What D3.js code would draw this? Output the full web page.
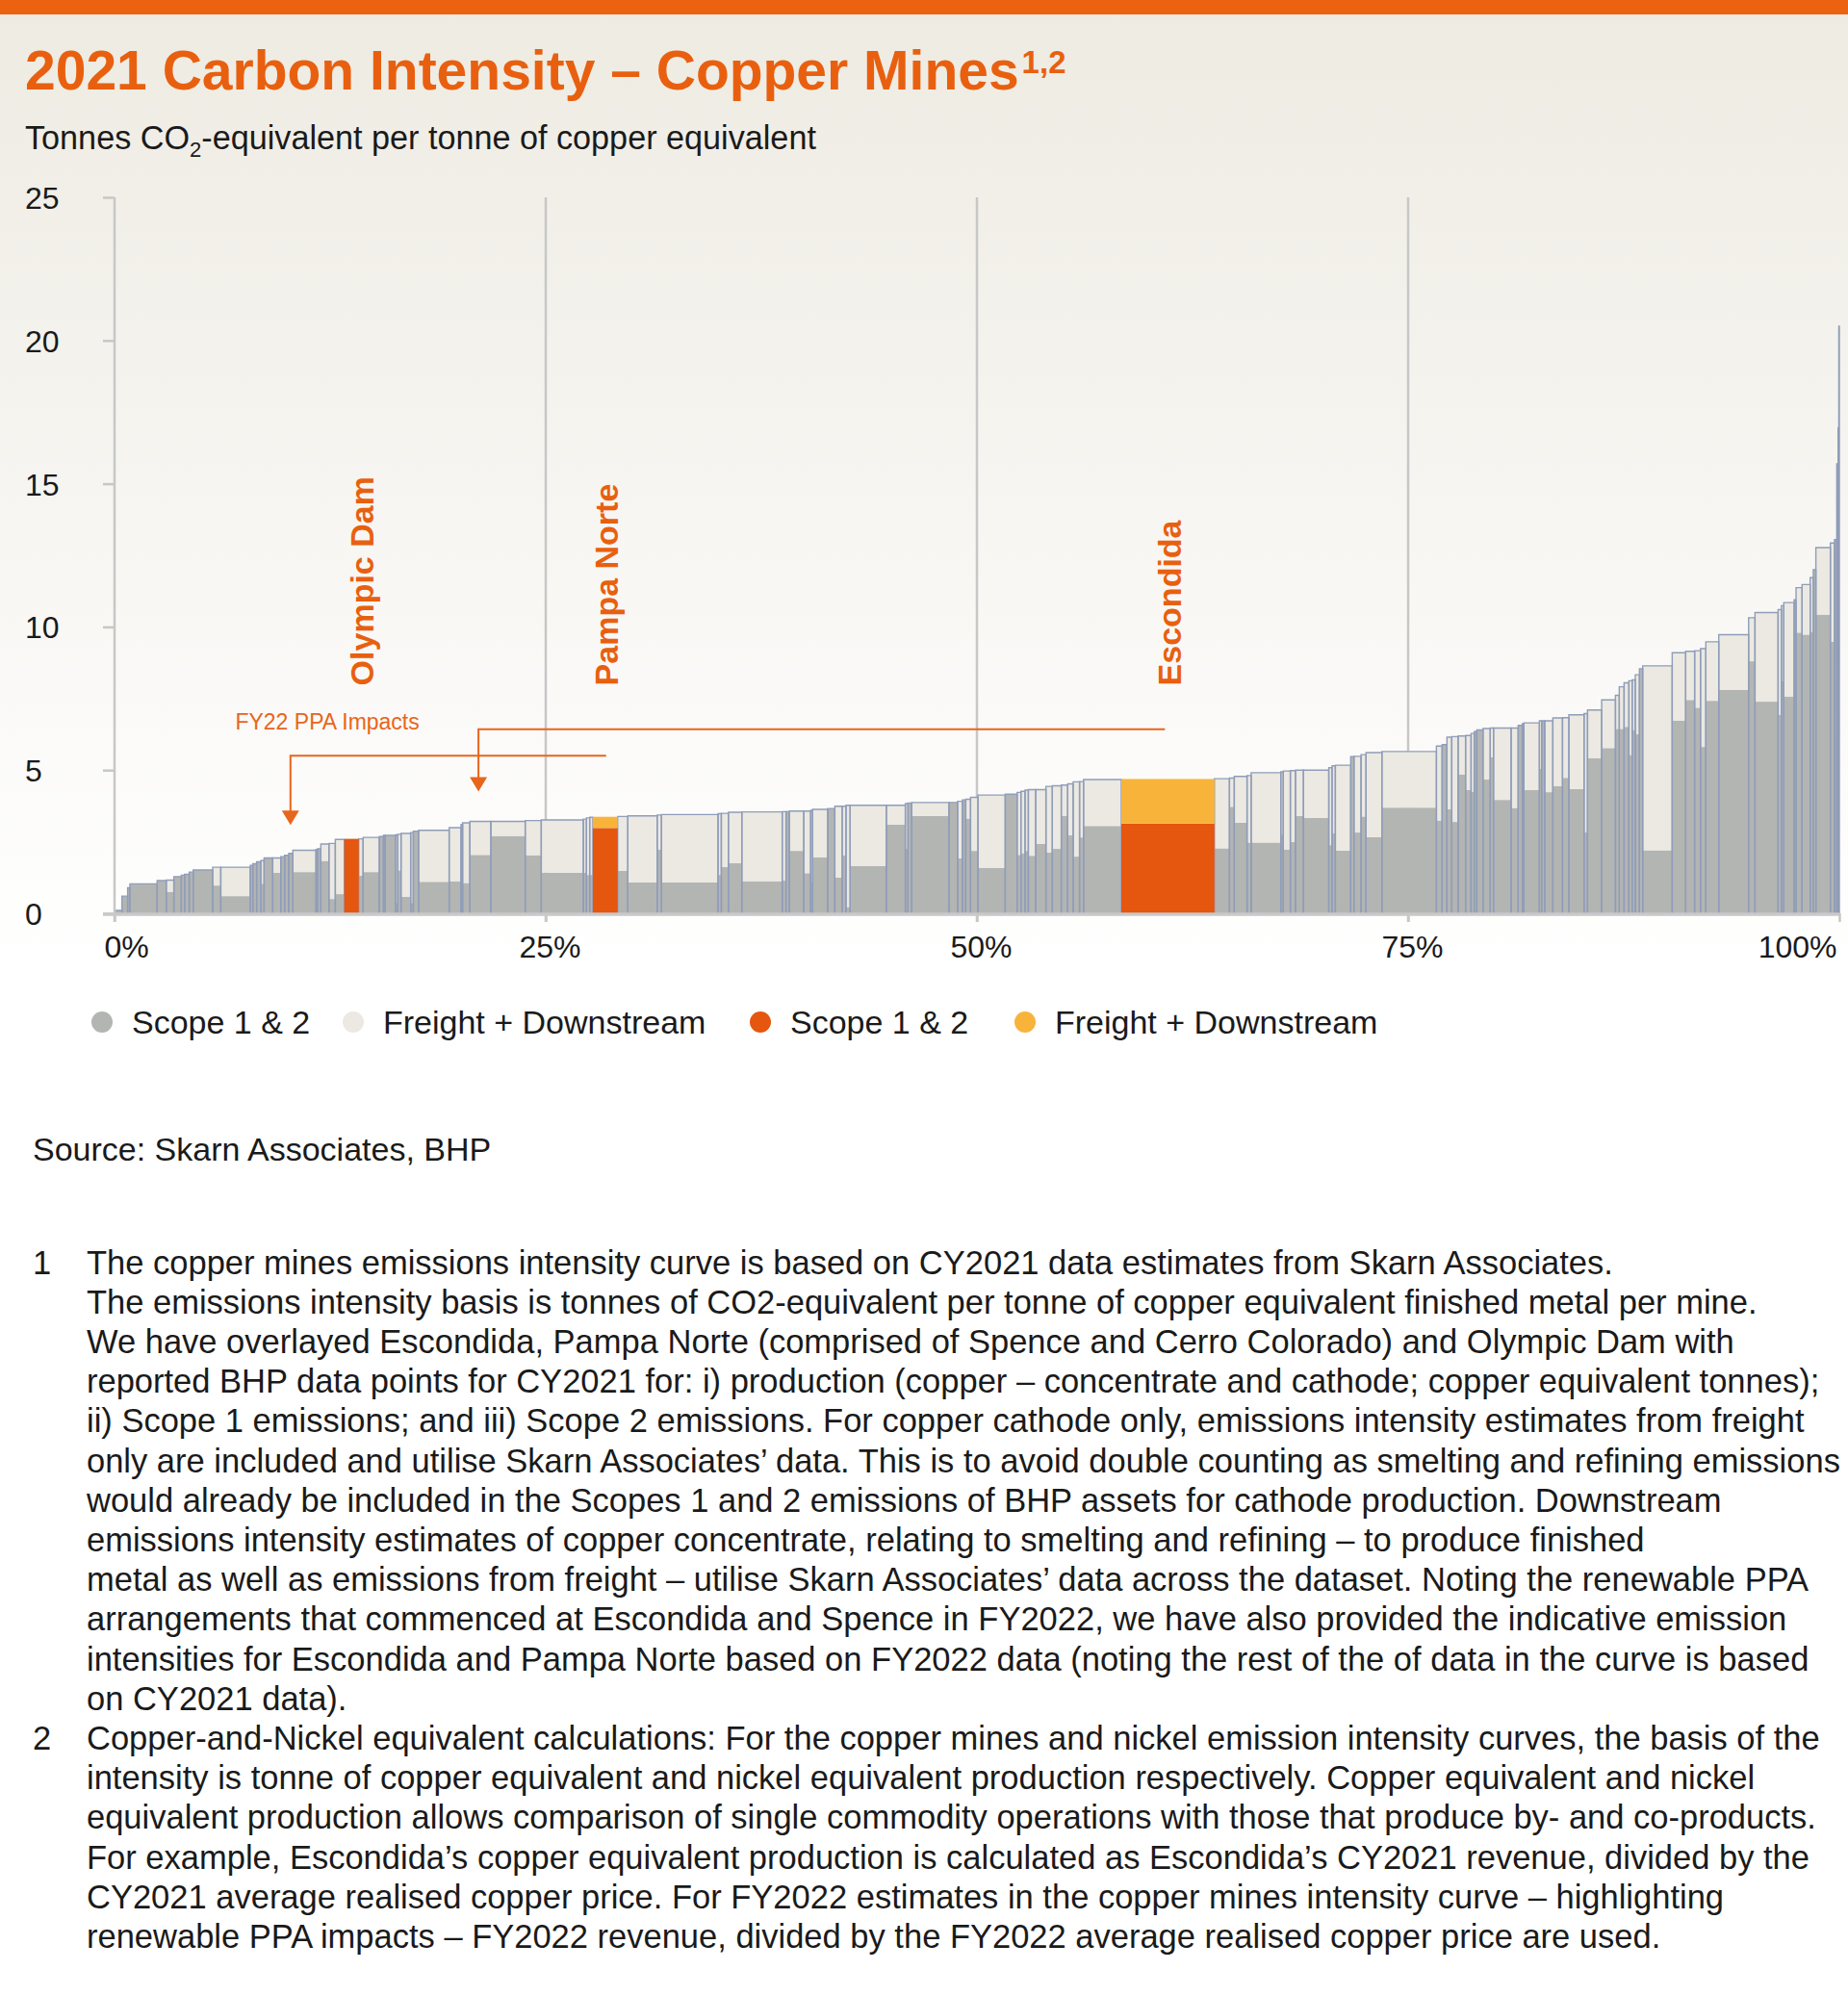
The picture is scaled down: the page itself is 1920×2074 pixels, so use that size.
<!DOCTYPE html>
<html><head><meta charset="utf-8">
<script src="https://cdn.jsdelivr.net/npm/d3@7"></script>
<style>
body{margin:0;background:#fff}
svg{display:block}
text{font-family:"Liberation Sans",Arial,Helvetica,sans-serif}
</style>
</head><body>
<svg id="chart" width="1920" height="2074"></svg>
<script>
// ---- DATA ----
// production share of each mine (% of total copper-equivalent), in curve order
const share = [0.43,0.33,0.13,1.58,0.53,0.44,0.43,0.19,0.27,0.23,1.13,0.47,1.71,0.15,0.22,0.24,0.19,0.50,0.47,0.22,
0.24,0.24,1.34,0.09,0.19,0.47,0.37,0.52,0.84,0.25,0.94,0.24,0.09,0.61,0.13,0.19,0.56,0.15,0.31,1.77,
0.69,0.09,0.42,1.22,1.99,0.93,2.44,0.18,0.19,0.18,1.44,0.59,1.70,0.25,3.28,0.19,0.41,0.78,2.34,0.22,
0.19,0.84,0.40,0.11,0.88,0.41,0.43,0.22,0.24,2.10,1.10,0.15,0.22,2.16,0.50,0.28,0.19,0.28,0.43,1.58,
0.69,0.22,0.24,0.19,0.43,0.59,0.37,0.52,0.37,0.32,0.37,0.23,2.19,5.40,0.87,0.28,0.74,0.24,1.72,0.14,
0.41,0.30,0.46,1.47,0.19,0.19,0.89,0.19,0.41,0.29,0.92,3.16,0.33,0.28,0.28,0.37,0.43,0.32,0.18,0.15,
0.36,0.42,0.19,1.02,0.41,0.24,0.09,0.90,0.13,0.18,0.47,0.56,0.37,0.88,0.20,0.82,0.80,0.22,0.28,0.28,
0.19,0.18,0.24,0.19,1.71,0.78,0.52,0.34,0.31,0.75,1.73,0.37,1.34,0.19,0.14,0.60,0.11,0.35,0.47,0.18,
0.15,0.84,0.24,0.13,0.08,0.04,0.03];
// Scope 1 & 2 intensity (t CO2-e / t CuEq)
const scope = [0.10,0.60,0.89,1.03,1.14,0.75,1.28,1.33,1.36,1.44,1.51,0.97,0.60,1.67,1.73,1.80,1.03,1.93,1.42,1.98,
2.03,2.09,1.44,0.30,2.25,1.83,0.50,0.67,2.60,1.31,1.44,2.68,2.72,2.72,0.36,1.50,0.58,0.36,2.87,1.10,
1.12,3.10,1.06,2.04,2.70,2.03,1.42,1.42,1.34,1.34,2.98,1.48,1.08,2.23,1.08,1.34,1.62,1.75,1.12,1.14,
3.55,2.18,1.40,1.09,1.95,3.66,1.25,2.03,0.22,1.65,3.10,2.25,3.85,3.40,3.87,1.92,3.96,3.31,2.18,1.58,
4.16,2.04,2.10,2.18,2.01,2.42,2.12,2.25,3.40,2.73,1.98,2.65,3.05,3.13,2.27,3.72,3.16,2.47,2.47,2.75,
2.23,2.49,3.40,3.33,2.38,2.79,2.19,5.47,2.82,3.38,2.66,3.69,3.24,5.89,3.63,3.19,4.85,4.31,4.24,6.34,
6.40,4.67,5.45,3.96,3.68,6.56,6.62,4.31,5.04,6.72,4.23,4.44,4.73,4.34,2.83,5.42,5.77,6.44,6.44,6.51,
5.53,6.40,6.26,8.54,2.20,6.72,7.45,7.18,5.81,7.42,7.80,8.80,7.39,6.93,8.10,7.56,10.95,9.80,9.73,9.83,
12.00,10.43,9.48,13.05,15.69,16.95,20.50];
// Freight + downstream intensity (t CO2-e / t CuEq)
const freight = [0,0,0,0,0,0.41,0,0,0,0,0,0.64,1.01,0,0,0,0.81,0,0.51,0,
0,0,0.76,1.93,0,0.59,1.94,1.91,0,1.29,1.21,0,0,0,2.38,1.26,2.21,2.46,0,1.80,
1.87,0,2.10,1.17,0.51,1.21,1.84,1.87,1.99,2.01,0.39,1.90,2.32,1.20,2.37,2.14,1.87,1.78,2.42,2.41,
0,1.39,2.17,2.51,1.68,0,2.49,1.71,3.55,2.12,0.67,1.58,0,0.47,0,1.99,0,0.67,1.87,2.55,
0,2.18,2.16,2.12,2.31,1.90,2.31,2.20,1.08,1.79,2.61,1.95,1.62,1.56,2.43,1.00,1.62,2.34,2.44,2.19,
2.74,2.49,1.60,1.67,2.70,2.36,2.98,0,2.66,2.16,2.95,1.96,2.60,0,2.52,2.98,1.34,1.90,2.04,0,
0,1.78,1.02,2.51,2.79,0,0,2.34,1.68,0,2.49,2.38,2.10,2.59,4.14,1.68,1.68,1.17,1.47,1.54,
2.59,1.75,2.07,0,6.44,2.38,1.70,1.99,3.43,2.06,1.93,1.52,3.11,3.67,2.64,3.29,0,1.57,1.75,1.89,
0,2.34,3.45,0,0,0,0];
// BHP assets overlaid on the curve
const bhpIndex = [28, 50, 93];
const bhpNames = ["Olympic Dam", "Pampa Norte", "Escondida"];
// FY22 PPA impact annotations: from (x%, level) to arrow tip (x%, value)
const ppaFrom = [28.5, 60.9];
const ppaTo = [10.2, 21.1];
const ppaLevel = [5.5, 6.43];
const ppaTip = [3.08, 4.25];

const yTicks = [0, 5, 10, 15, 20, 25];
const xTicks = [0, 25, 50, 75, 100];
const legendLabels = ["Scope 1 & 2", "Freight + Downstream", "Scope 1 & 2", "Freight + Downstream"];

const footnotes = [
 ["1", "The copper mines emissions intensity curve is based on CY2021 data estimates from Skarn Associates."],
 ["", "The emissions intensity basis is tonnes of CO2-equivalent per tonne of copper equivalent finished metal per mine."],
 ["", "We have overlayed Escondida, Pampa Norte (comprised of Spence and Cerro Colorado) and Olympic Dam with"],
 ["", "reported BHP data points for CY2021 for: i) production (copper – concentrate and cathode; copper equivalent tonnes);"],
 ["", "ii) Scope 1 emissions; and iii) Scope 2 emissions. For copper cathode only, emissions intensity estimates from freight"],
 ["", "only are included and utilise Skarn Associates’ data. This is to avoid double counting as smelting and refining emissions"],
 ["", "would already be included in the Scopes 1 and 2 emissions of BHP assets for cathode production. Downstream"],
 ["", "emissions intensity estimates of copper concentrate, relating to smelting and refining – to produce finished"],
 ["", "metal as well as emissions from freight – utilise Skarn Associates’ data across the dataset. Noting the renewable PPA"],
 ["", "arrangements that commenced at Escondida and Spence in FY2022, we have also provided the indicative emission"],
 ["", "intensities for Escondida and Pampa Norte based on FY2022 data (noting the rest of the of data in the curve is based"],
 ["", "on CY2021 data)."],
 ["2", "Copper-and-Nickel equivalent calculations: For the copper mines and nickel emission intensity curves, the basis of the"],
 ["", "intensity is tonne of copper equivalent and nickel equivalent production respectively. Copper equivalent and nickel"],
 ["", "equivalent production allows comparison of single commodity operations with those that produce by- and co-products."],
 ["", "For example, Escondida’s copper equivalent production is calculated as Escondida’s CY2021 revenue, divided by the"],
 ["", "CY2021 average realised copper price. For FY2022 estimates in the copper mines intensity curve – highlighting"],
 ["", "renewable PPA impacts – FY2022 revenue, divided by the FY2022 average realised copper price are used."]
];

// ---- STYLE ----
const C = {
  orange: "#EB6311", title: "#E8600F", gray: "#B3B5B3", light: "#EBE9E1",
  stroke: "#909DB9", bhp: "#E5560F", bhpLight: "#F8B43A", grid: "#C7C7C7", text: "#1a1a1a"
};

const svg = d3.select("#chart");
const defs = svg.append("defs");
const grad = defs.append("linearGradient").attr("id","bg").attr("gradientUnits","userSpaceOnUse")
  .attr("x1",0).attr("y1",15).attr("x2",0).attr("y2",1000);
grad.append("stop").attr("offset",0).attr("stop-color","#EEEBE2");
grad.append("stop").attr("offset",0.5).attr("stop-color","#F6F5F1");
grad.append("stop").attr("offset",1).attr("stop-color","#FFFFFF");
svg.append("rect").attr("width",1920).attr("height",2074).attr("fill","url(#bg)");
svg.append("rect").attr("width",1920).attr("height",15).attr("fill",C.orange);

// title
const title = svg.append("text").attr("x",26).attr("y",93).attr("fill",C.title)
  .attr("font-weight","bold").attr("font-size",57);
title.append("tspan").text("2021 Carbon Intensity – Copper Mines");
title.append("tspan").attr("font-size",33).attr("dy",-17).attr("dx",3).text("1,2");

const sub = svg.append("text").attr("x",26).attr("y",155).attr("fill",C.text).attr("font-size",34.2);
sub.append("tspan").text("Tonnes CO");
sub.append("tspan").attr("font-size",22).attr("dy",8).text("2");
sub.append("tspan").attr("dy",-8).text("-equivalent per tonne of copper equivalent");

// scales
const x = d3.scaleLinear().domain([0,100]).range([119,1911]);
const y = d3.scaleLinear().domain([0,25]).range([949,205]);

// gridlines (behind bars)
svg.append("g").selectAll("line").data(xTicks.filter(d=>d>0&&d<100)).join("line")
  .attr("x1",d=>x(d)).attr("x2",d=>x(d)).attr("y1",y(25)).attr("y2",y(0)+9)
  .attr("stroke",C.grid).attr("stroke-width",2.5);

// bars
const ends = d3.cumsum(share);
const mines = share.map((w,i)=>({i, x0: ends[i]-w, x1: ends[i], s: scope[i], f: freight[i], bhp: bhpIndex.includes(i)}));
const gBars = svg.append("g");
const normal = mines.filter(d=>!d.bhp);
gBars.selectAll("rect.s").data(normal).join("rect").attr("class","s")
  .attr("x",d=>x(d.x0)).attr("width",d=>x(d.x1)-x(d.x0))
  .attr("y",d=>y(d.s)).attr("height",d=>y(0)-y(d.s)).attr("fill",C.gray);
gBars.selectAll("rect.f").data(normal.filter(d=>d.f>0)).join("rect").attr("class","f")
  .attr("x",d=>x(d.x0)).attr("width",d=>x(d.x1)-x(d.x0))
  .attr("y",d=>y(d.s+d.f)).attr("height",d=>y(d.s)-y(d.s+d.f)).attr("fill",C.light);
gBars.selectAll("path.o").data(normal).join("path").attr("class","o")
  .attr("d",d=>`M${x(d.x0)},${y(0)}V${y(d.s+d.f)}H${x(d.x1)}V${y(0)}`)
  .attr("fill","none").attr("stroke",C.stroke).attr("stroke-width",1.4);
const hl = mines.filter(d=>d.bhp);
gBars.selectAll("rect.hs").data(hl).join("rect").attr("class","hs")
  .attr("x",d=>x(d.x0)).attr("width",d=>x(d.x1)-x(d.x0))
  .attr("y",d=>y(d.s)).attr("height",d=>y(0)-y(d.s)).attr("fill",C.bhp);
gBars.selectAll("rect.hf").data(hl.filter(d=>d.f>0)).join("rect").attr("class","hf")
  .attr("x",d=>x(d.x0)).attr("width",d=>x(d.x1)-x(d.x0))
  .attr("y",d=>y(d.s+d.f)).attr("height",d=>y(d.s)-y(d.s+d.f)).attr("fill",C.bhpLight);

// y axis
const yAxis = svg.append("g").attr("transform",`translate(${x(0)},0)`)
  .call(d3.axisLeft(y).tickValues(yTicks).tickSize(12).tickPadding(0));
yAxis.select(".domain").remove();
yAxis.selectAll(".tick line").attr("stroke",C.grid).attr("stroke-width",2.5);
yAxis.selectAll(".tick text").attr("text-anchor","start").attr("x",-93).attr("dy","0.36em")
  .attr("font-size",32).attr("fill",C.text).style("font-family",'"Liberation Sans",Arial,sans-serif');
svg.append("line").attr("x1",x(0)).attr("x2",x(0)).attr("y1",y(25)).attr("y2",y(0)+9)
  .attr("stroke",C.grid).attr("stroke-width",2.5);

// x axis
const xAxis = svg.append("g").attr("transform",`translate(0,${y(0)})`)
  .call(d3.axisBottom(x).tickValues(xTicks).tickFormat(d=>d+"%").tickSize(9));
xAxis.select(".domain").remove();
xAxis.selectAll(".tick line").attr("stroke",C.grid).attr("stroke-width",2.5);
xAxis.selectAll(".tick text").attr("y",46).attr("dy",0).attr("font-size",32).attr("fill",C.text)
  .style("font-family",'"Liberation Sans",Arial,sans-serif')
  .attr("text-anchor",d=>d===0?"start":d===100?"end":"middle")
  .attr("x",d=>d===0?-11:d===100?-3:4);
svg.append("line").attr("x1",x(0)-12).attr("x2",x(100)).attr("y1",y(0)+1).attr("y2",y(0)+1)
  .attr("stroke","#C9C9C9").attr("stroke-width",3.5);

// BHP labels
const labelShift = [23, 13, 14];
bhpIndex.forEach((idx,k)=>{
  const m = mines[idx];
  const cx = x((m.x0+m.x1)/2) + labelShift[k];
  svg.append("text").attr("transform",`translate(${cx},${y(7.95)}) rotate(-90)`)
    .attr("font-size",34).attr("font-weight","bold").attr("fill",C.title).text(bhpNames[k]);
});

// FY22 PPA annotations
const ann = svg.append("g");
ppaFrom.forEach((f,k)=>{
  const xt = x(ppaTo[k]), yl = y(ppaLevel[k]), yt = y(ppaTip[k]);
  ann.append("path").attr("d",`M${x(f)},${yl}H${xt}V${yt-14}`).attr("fill","none")
    .attr("stroke","#E8651C").attr("stroke-width",2);
  ann.append("path").attr("d",`M${xt-9},${yt-15}L${xt+9},${yt-15}L${xt},${yt}Z`).attr("fill","#E8651C");
});
ann.append("text").attr("x",x(7.0)).attr("y",y(6.43)).attr("font-size",23).attr("fill","#E8651C")
  .text("FY22 PPA Impacts");

// legend
const legendColors = [C.gray, C.light, C.bhp, C.bhpLight];
const legendX = [106, 367, 790, 1065];
const lg = svg.append("g");
legendLabels.forEach((t,k)=>{
  lg.append("circle").attr("cx",legendX[k]).attr("cy",1062).attr("r",11).attr("fill",legendColors[k]);
  lg.append("text").attr("x",legendX[k]+31).attr("y",1074).attr("font-size",34).attr("fill",C.text).text(t);
});

// source
svg.append("text").attr("x",34).attr("y",1206).attr("font-size",34).attr("fill",C.text)
  .text("Source: Skarn Associates, BHP");

// footnotes
const fn = svg.append("g");
footnotes.forEach((row,k)=>{
  const yy = 1323.5 + k*41.2;
  if (row[0]) fn.append("text").attr("x",34).attr("y",yy).attr("font-size",34.5).attr("fill",C.text).text(row[0]);
  fn.append("text").attr("x",90).attr("y",yy).attr("font-size",34.5).attr("fill",C.text).text(row[1]);
});
</script>
</body></html>
